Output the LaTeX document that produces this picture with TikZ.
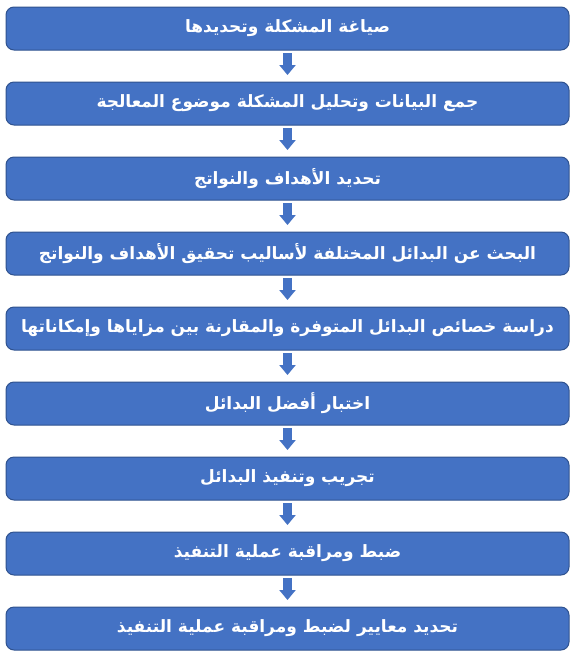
\documentclass[tikz,border=0pt]{standalone}
\usepackage{fontspec}
\usetikzlibrary{positioning,arrows.meta}
\newfontfamily\arabicfont[Script=Arabic]{DejaVu Sans}
\TeXXeTstate=1
\definecolor{stepblue}{HTML}{4472C4}
\definecolor{stepedge}{HTML}{2F528F}

\begin{document}
\begin{tikzpicture}[x=1pt,y=1pt,
    stepbox/.style={draw=stepedge,line width=1pt,fill=stepblue,rounded corners=8pt,
        minimum width=563pt,minimum height=43pt,inner sep=0pt,outer sep=0pt,text=white,
        font=\arabicfont\bfseries\fontsize{17}{20}\selectfont},
    flow/.style={stepblue,line width=9pt,shorten <=3pt,shorten >=7pt,
        -{Triangle[width=16pt,length=10pt]}},
    node distance=32pt]
                \useasboundingbox (0,0) rectangle (576,-657);
                \node [stepbox] (s1) at (287.5,-28.5) {\beginR صياغة المشكلة وتحديدها\endR};
                \node [stepbox,below=of s1] (s2) {\beginR جمع البيانات وتحليل المشكلة موضوع المعالجة\endR};
                \node [stepbox,below=of s2] (s3) {\beginR تحديد الأهداف والنواتج\endR};
                \node [stepbox,below=of s3] (s4) {\beginR البحث عن البدائل المختلفة لأساليب تحقيق الأهداف والنواتج\endR};
                \node [stepbox,below=of s4] (s5) {\beginR دراسة خصائص البدائل المتوفرة والمقارنة بين مزاياها وإمكاناتها\endR};
                \node [stepbox,below=of s5] (s6) {\beginR اختبار أفضل البدائل\endR};
                \node [stepbox,below=of s6] (s7) {\beginR تجريب وتنفيذ البدائل\endR};
                \node [stepbox,below=of s7] (s8) {\beginR ضبط ومراقبة عملية التنفيذ\endR};
                \node [stepbox,below=of s8] (s9) {\beginR تحديد معايير لضبط ومراقبة عملية التنفيذ\endR};
                \foreach \a/\b in {s1/s2,s2/s3,s3/s4,s4/s5,s5/s6,s6/s7,s7/s8,s8/s9}
                    \draw [flow] (\a) -- (\b);
            \end{tikzpicture}
\end{document}
